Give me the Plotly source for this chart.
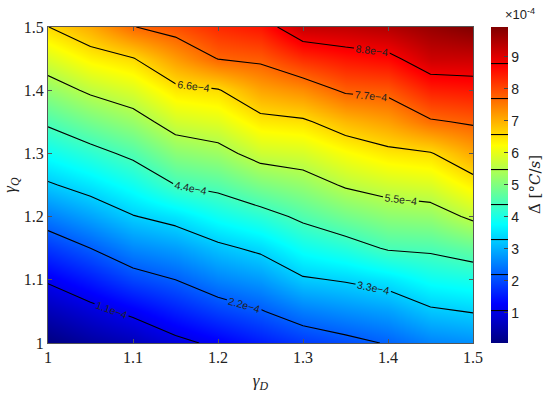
import numpy as np
import plotly.graph_objects as go

gamma_D = [1.00, 1.05, 1.10, 1.15, 1.20, 1.25, 1.30, 1.35, 1.40, 1.45, 1.50]
gamma_Q = [1.00, 1.05, 1.10, 1.15, 1.20, 1.25, 1.30, 1.35, 1.40, 1.45, 1.50]

# Delta-dot in units of 1e-4 degC/s, rows = gamma_Q, cols = gamma_D
delta = [
    [0.06, 0.37, 0.60, 0.95, 1.22, 1.54, 1.83, 2.03, 2.24, 2.56, 2.68],  # Q=1.00
    [0.61, 0.92, 1.22, 1.58, 1.91, 2.16, 2.51, 2.69, 2.84, 3.21, 3.33],  # Q=1.05
    [1.17, 1.54, 1.95, 2.20, 2.56, 2.78, 3.23, 3.35, 3.53, 3.86, 3.98],  # Q=1.10
    [1.82, 2.20, 2.62, 2.82, 3.17, 3.42, 3.88, 4.12, 4.46, 4.51, 4.73],  # Q=1.15
    [2.50, 2.87, 3.27, 3.50, 3.87, 4.15, 4.53, 4.86, 5.11, 5.19, 5.62],  # Q=1.20
    [3.23, 3.54, 3.90, 4.40, 4.58, 4.96, 5.19, 5.57, 5.77, 5.88, 6.36],  # Q=1.25
    [3.87, 4.19, 4.54, 5.10, 5.28, 5.75, 5.84, 6.19, 6.45, 6.56, 7.08],  # Q=1.30
    [4.50, 4.89, 5.22, 5.78, 5.93, 6.42, 6.51, 6.91, 7.15, 7.63, 7.78],  # Q=1.35
    [5.18, 5.61, 5.89, 6.45, 6.56, 7.11, 7.34, 7.79, 7.86, 8.41, 8.49],  # Q=1.40
    [5.87, 6.33, 6.57, 7.19, 7.72, 7.82, 8.27, 8.51, 8.64, 9.18, 9.19],  # Q=1.45
    [6.59, 7.04, 7.68, 7.94, 8.30, 8.50, 9.25, 9.30, 9.43, 9.70, 9.93],  # Q=1.50
]

levels = [1.1e-4, 2.2e-4, 3.3e-4, 4.4e-4, 5.5e-4, 6.6e-4, 7.7e-4, 8.8e-4]
cbar_ticks = [1, 2, 3, 4, 5, 6, 7, 8, 9]
axis_ticks = [1, 1.1, 1.2, 1.3, 1.4, 1.5]
axis_text = ["1", "1.1", "1.2", "1.3", "1.4", "1.5"]

z = np.array(delta) * 1e-4

# matlab jet
jet = [[0.0, "rgb(0,0,128)"], [0.125, "rgb(0,0,255)"], [0.375, "rgb(0,255,255)"],
       [0.625, "rgb(255,255,0)"], [0.875, "rgb(255,0,0)"], [1.0, "rgb(128,0,0)"]]

serif = "Liberation Serif, Times New Roman, serif"
sans = "Liberation Sans, Arial, sans-serif"

fig = go.Figure()
fig.add_trace(go.Contour(
    x=gamma_D, y=gamma_Q, z=z,
    colorscale=jet,
    zmin=z.min(), zmax=z.max(),
    contours=dict(start=levels[0], end=levels[-1], size=levels[1] - levels[0],
                  coloring="heatmap", showlabels=True, labelformat=".1e",
                  labelfont=dict(family=sans, size=10.5, color="#222")),
    line=dict(color="black", width=1.1, smoothing=0),
    hoverinfo="skip",
    colorbar=dict(
        x=1.042, xanchor="left", y=0.5, yanchor="middle", len=1, lenmode="fraction",
        thickness=17, outlinewidth=0, xpad=0, ypad=0,
        tickvals=[t * 1e-4 for t in cbar_ticks], ticktext=[str(t) for t in cbar_ticks],
        ticks="inside", ticklen=4, tickcolor="#444",
        tickfont=dict(family=sans, size=14, color="#222"),
    ),
))

fig.add_annotation(text="×10<sup>-4</sup>", xref="paper", yref="paper",
                   x=1.07, y=1.01, xanchor="left", yanchor="bottom", showarrow=False,
                   font=dict(family=sans, size=13, color="#222"))
# colorbar label, read bottom to top like the matlab ylabel
fig.add_annotation(text="Δ̇ [°<i>C</i>/<i>s</i>]", xref="paper", yref="paper",
                   x=1.12, y=0.5, xanchor="left", yanchor="middle", textangle=-90,
                   showarrow=False,
                   font=dict(family="DejaVu Serif, serif", size=15, color="#222"))

axis_common = dict(showgrid=False, zeroline=False, showline=True, mirror="ticks",
                   linecolor="#555", linewidth=1, ticks="inside", ticklen=4,
                   tickcolor="#555", automargin=False,
                   tickvals=axis_ticks, ticktext=axis_text, range=[1, 1.5],
                   tickfont=dict(family=serif, size=16, color="#222"))

fig.update_xaxes(title=dict(text="<i>γ<sub>D</sub></i>", standoff=10,
                            font=dict(family=serif, size=17, color="#222")),
                 **axis_common)
fig.update_yaxes(title=dict(text="<i>γ<sub>Q</sub></i>", standoff=10,
                            font=dict(family=serif, size=17, color="#222")),
                 **axis_common)

fig.update_layout(width=550, height=393,
                  margin=dict(l=48, r=77, t=27, b=50, autoexpand=False),
                  plot_bgcolor="white", paper_bgcolor="white", showlegend=False)

# page body has an 8px default margin, drop it so the figure sits at 0,0
fig.write_html("out.html", config={"displayModeBar": False},
               post_script="document.body.style.margin='0';")
